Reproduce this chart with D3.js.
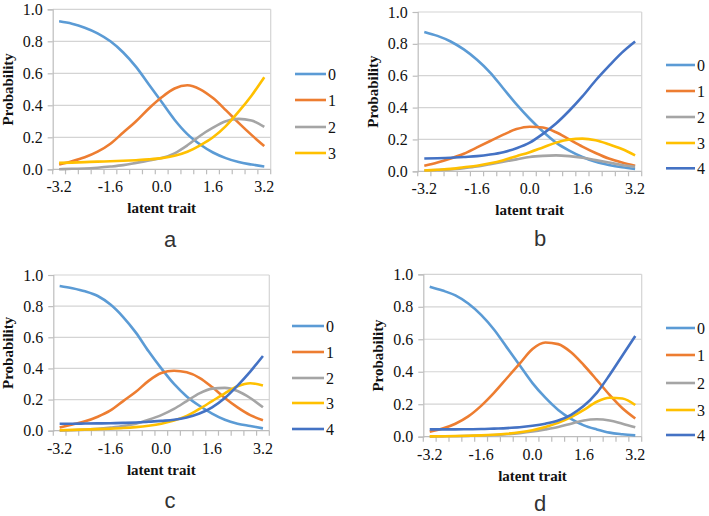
<!DOCTYPE html>
<html lang="en">
<head>
<meta charset="utf-8">
<title>Category response curves</title>
<script src="https://cdn.jsdelivr.net/npm/d3@7"></script>
<style>
  body { margin: 0; background: #fff; }
  svg { display: block; }
</style>
</head>
<body>
<div id="chart"></div>
<script>
// ---- data ----
var xCats = ["-3.2","-2.8","-2.4","-2.0","-1.6","-1.2","-0.8","-0.4","0.0","0.4","0.8","1.2","1.6","2.0","2.4","2.8","3.2"];
var xLabelCats = ["-3.2","-1.6","0.0","1.6","3.2"];
var yTicks = [0, 0.2, 0.4, 0.6, 0.8, 1.0];
var seriesNames = ["0","1","2","3","4"];
var colors = ["#5b9bd5","#ed7d31","#a5a5a5","#ffc000","#4472c4"];
var serif = "'Liberation Serif', 'Times New Roman', 'DejaVu Serif', serif";

// panel a (4 categories)
var a0 = [0.925,0.91,0.885,0.85,0.80,0.73,0.64,0.53,0.42,0.31,0.22,0.155,0.105,0.07,0.045,0.03,0.018];
var a1 = [0.03,0.05,0.075,0.11,0.16,0.23,0.30,0.38,0.45,0.505,0.525,0.50,0.445,0.37,0.29,0.215,0.145];
var a2 = [0.0,0.003,0.005,0.01,0.017,0.026,0.04,0.055,0.07,0.10,0.15,0.21,0.26,0.30,0.315,0.305,0.265];
var a3 = [0.04,0.042,0.045,0.048,0.05,0.053,0.057,0.062,0.07,0.085,0.11,0.15,0.20,0.27,0.36,0.46,0.575];

// panel b
var b0 = [0.875,0.85,0.815,0.765,0.70,0.62,0.52,0.42,0.33,0.25,0.18,0.13,0.09,0.06,0.04,0.025,0.015];
var b1 = [0.035,0.055,0.08,0.11,0.15,0.19,0.23,0.265,0.28,0.275,0.245,0.20,0.155,0.115,0.08,0.055,0.035];
var b2 = [0.005,0.008,0.012,0.02,0.03,0.045,0.06,0.075,0.09,0.097,0.10,0.095,0.085,0.07,0.055,0.04,0.028];
var b3 = [0.005,0.01,0.015,0.025,0.035,0.05,0.07,0.095,0.12,0.15,0.18,0.20,0.205,0.195,0.17,0.14,0.10];
var b4 = [0.08,0.082,0.085,0.09,0.095,0.105,0.12,0.145,0.18,0.235,0.30,0.38,0.47,0.57,0.66,0.745,0.815];

// panel c
var c0 = [0.93,0.915,0.895,0.865,0.81,0.73,0.63,0.51,0.40,0.30,0.22,0.16,0.11,0.07,0.045,0.03,0.015];
var c1 = [0.02,0.04,0.06,0.09,0.13,0.19,0.25,0.32,0.37,0.385,0.375,0.34,0.28,0.21,0.15,0.10,0.067];
var c2 = [0.0,0.003,0.007,0.012,0.02,0.03,0.045,0.07,0.10,0.14,0.19,0.24,0.27,0.275,0.255,0.21,0.15];
var c3 = [0.003,0.005,0.008,0.01,0.013,0.017,0.023,0.032,0.045,0.065,0.095,0.14,0.19,0.24,0.285,0.305,0.29];
var c4 = [0.045,0.045,0.046,0.047,0.048,0.05,0.053,0.057,0.063,0.07,0.085,0.11,0.15,0.21,0.29,0.38,0.48];

// panel d
var d0 = [0.924,0.90,0.87,0.82,0.75,0.66,0.55,0.44,0.33,0.24,0.165,0.11,0.07,0.045,0.025,0.015,0.008];
var d1 = [0.03,0.05,0.08,0.125,0.19,0.27,0.36,0.45,0.54,0.58,0.57,0.52,0.44,0.35,0.257,0.175,0.112];
var d2 = [0.0,0.002,0.003,0.005,0.007,0.01,0.015,0.022,0.032,0.045,0.06,0.08,0.10,0.107,0.10,0.08,0.058];
var d3v = [0.002,0.003,0.004,0.006,0.008,0.012,0.018,0.027,0.04,0.06,0.085,0.12,0.165,0.215,0.24,0.235,0.195];
var d4 = [0.045,0.045,0.045,0.046,0.047,0.05,0.053,0.058,0.067,0.08,0.10,0.135,0.19,0.27,0.38,0.50,0.62];

// ---- layout ----
var panels = [
  {tag:"a", series:[a0,a1,a2,a3],     l:52.7,  r:270.7, t:9.3,   b:169.3, lx:295, lx2:326, ly:[74,100,127,153],          tagY:247},
  {tag:"b", series:[b0,b1,b2,b3,b4],  l:417.7, r:641.7, t:12,    b:171.3, lx:666, lx2:695, ly:[65,91,117,143,168.3],     tagY:246},
  {tag:"c", series:[c0,c1,c2,c3,c4],  l:53.3,  r:269.3, t:275,   b:430.7, lx:292, lx2:324, ly:[326,352,378,403,429],     tagY:508},
  {tag:"d", series:[d0,d1,d2,d3v,d4], l:423.3, r:641.7, t:274.3, b:436.7, lx:666, lx2:695, ly:[328,355,383,410,435],     tagY:511}
];

var svg = d3.select("#chart").append("svg")
    .attr("width", 709)
    .attr("height", 516);

panels.forEach(function(p) {
  var g = svg.append("g");
  var x = d3.scalePoint().domain(xCats).range([p.l, p.r]).padding(0.5);
  var y = d3.scaleLinear().domain([0, 1]).range([p.b, p.t]);
  var step = x.step();

  // gridlines
  g.selectAll(".grid")
    .data(yTicks.slice(1))
    .enter().append("line")
    .attr("x1", p.l).attr("x2", p.r)
    .attr("y1", function(d) { return y(d); })
    .attr("y2", function(d) { return y(d); })
    .attr("stroke", "#d4d4d4")
    .attr("stroke-width", 1.2);

  // right border
  g.append("line")
    .attr("x1", p.r).attr("x2", p.r)
    .attr("y1", p.t).attr("y2", p.b)
    .attr("stroke", "#d4d4d4").attr("stroke-width", 1.2);

  // y axis
  var yAxis = d3.axisLeft(y).tickValues(yTicks).tickFormat(d3.format(".1f")).tickSize(5).tickPadding(5);
  var ya = g.append("g").attr("transform", "translate(" + p.l + ",0)").call(yAxis);
  ya.attr("font-family", null).attr("font-size", null);
  ya.select(".domain").attr("stroke", "#bdbdbd").attr("stroke-width", 1.2);
  ya.selectAll(".tick line").attr("stroke", "#bdbdbd").attr("stroke-width", 1.2);
  ya.selectAll(".tick text")
    .style("font-family", serif)
    .style("font-size", "16px")
    .attr("fill", "#111");

  // x axis: ticks between categories, labels every 4th category
  var xa = g.append("g");
  xa.append("line")
    .attr("x1", p.l).attr("x2", p.r)
    .attr("y1", p.b).attr("y2", p.b)
    .attr("stroke", "#bdbdbd").attr("stroke-width", 1.2);
  xa.selectAll(".xt")
    .data(d3.range(xCats.length + 1))
    .enter().append("line")
    .attr("x1", function(i) { return p.l + i * step; })
    .attr("x2", function(i) { return p.l + i * step; })
    .attr("y1", p.b).attr("y2", p.b + 5)
    .attr("stroke", "#bdbdbd").attr("stroke-width", 1.2);
  xa.selectAll(".xl")
    .data(xLabelCats)
    .enter().append("text")
    .attr("x", function(d) { return x(d); })
    .attr("y", p.b + 23)
    .attr("text-anchor", "middle")
    .style("font-family", serif)
    .style("font-size", "16px")
    .attr("fill", "#111")
    .text(function(d) { return d; });

  // axis titles
  g.append("text")
    .attr("x", (p.l + p.r) / 2)
    .attr("y", p.b + 44)
    .attr("text-anchor", "middle")
    .style("font-family", serif)
    .style("font-size", "15px")
    .style("font-weight", "bold")
    .attr("fill", "#111")
    .text("latent trait");
  g.append("text")
    .attr("transform", "translate(" + (p.l - 40) + "," + ((p.t + p.b) / 2) + ") rotate(-90)")
    .attr("text-anchor", "middle")
    .style("font-family", serif)
    .style("font-size", "15px")
    .style("font-weight", "bold")
    .attr("fill", "#111")
    .text("Probability");

  // curves
  var line = d3.line()
    .x(function(d, i) { return x(xCats[i]); })
    .y(function(d) { return y(d); })
    .curve(d3.curveMonotoneX);
  g.selectAll(".curve")
    .data(p.series)
    .enter().append("path")
    .attr("d", line)
    .attr("fill", "none")
    .attr("stroke", function(d, i) { return colors[i]; })
    .attr("stroke-width", 2.6)
    .attr("stroke-linejoin", "round");

  // legend
  var leg = g.selectAll(".leg")
    .data(p.series)
    .enter().append("g")
    .attr("transform", function(d, i) { return "translate(0," + p.ly[i] + ")"; });
  leg.append("line")
    .attr("x1", p.lx).attr("x2", p.lx2)
    .attr("stroke", function(d, i) { return colors[i]; })
    .attr("stroke-width", 2.6);
  leg.append("text")
    .attr("x", p.lx2 + 2)
    .attr("dy", "0.35em")
    .style("font-family", serif)
    .style("font-size", "16px")
    .attr("fill", "#111")
    .text(function(d, i) { return seriesNames[i]; });

  // panel tag
  g.append("text")
    .attr("x", p.tag == "a" || p.tag == "c" ? 170 : 540)
    .attr("y", p.tagY)
    .attr("text-anchor", "middle")
    .style("font-family", "'Liberation Sans', Arial, sans-serif")
    .style("font-size", "22px")
    .attr("fill", "#333")
    .text(p.tag);
});
</script>
</body>
</html>
